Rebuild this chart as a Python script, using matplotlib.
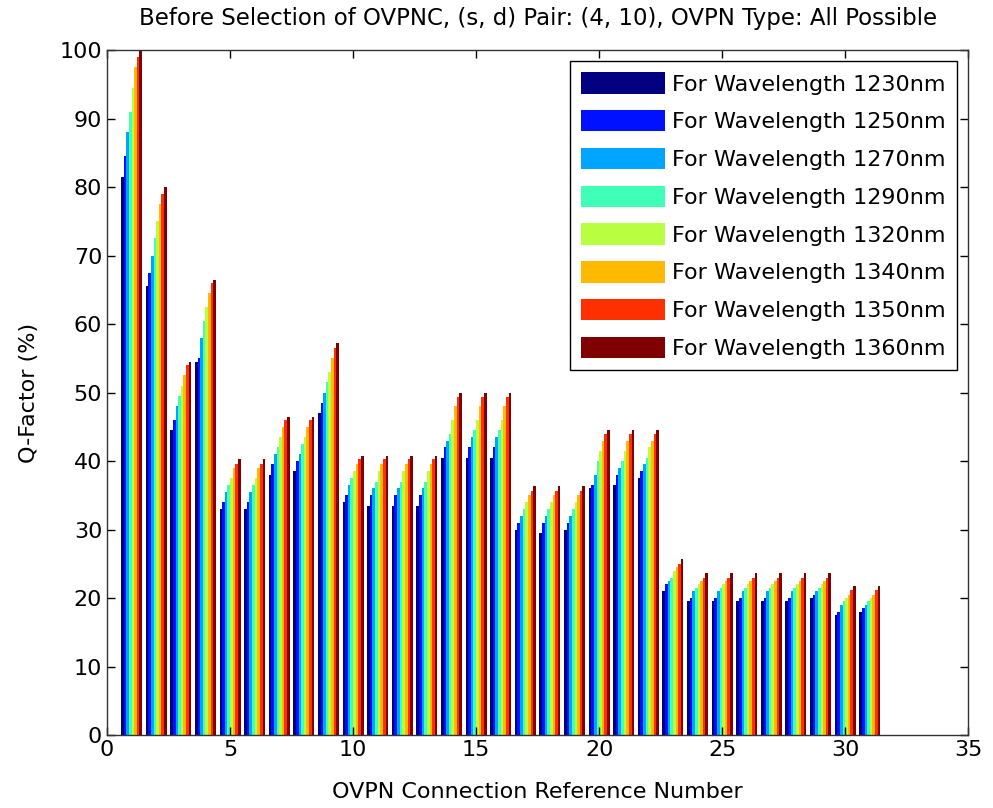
import numpy as np
import matplotlib
matplotlib.use("Agg")
import matplotlib.pyplot as plt

plt.rcParams['font.family'] = ['DejaVu Sans']

groups = np.arange(1, 32)
wavelengths = ["1230", "1250", "1270", "1290", "1320", "1340", "1350", "1360"]

# Q-factor per wavelength (one list per series, 31 OVPN connections)
q_1230 = [81.5, 65.5, 44.5, 54.5, 33, 33, 38, 38.5, 47, 34, 33.5, 33.5, 33.5, 40.5, 40.5, 40.5,
          30, 29.5, 30, 36, 36.5, 37.5, 21, 19.5, 19.5, 19.5, 19.5, 19.5, 20, 17.5, 18]
q_1250 = [84.5, 67.5, 46, 55, 34, 34, 39.5, 40, 48.5, 35, 35, 35, 35, 42, 42, 42,
          31, 31, 31, 36.5, 38, 38.5, 22, 20, 20, 20, 20, 20, 20.5, 18, 18.5]
q_1270 = [88, 70, 48, 58, 35.5, 35.5, 41, 41, 50, 36.5, 36, 36, 36, 43, 43.5, 43.5,
          32, 32, 32, 38, 39, 39.5, 22.5, 21, 21, 21, 21, 21, 21, 19, 19]
q_1290 = [91, 72.5, 49.5, 60.5, 36.5, 36.5, 42, 42.5, 51.5, 37.5, 37, 37, 37, 44, 44.5, 44.5,
          33, 33, 33, 40, 40, 40.5, 23, 21.5, 21.5, 21.5, 21.5, 21.5, 21.5, 19.5, 19.5]
q_1320 = [94.5, 75, 51, 62.5, 37.5, 37.5, 43.5, 43.5, 53, 38.5, 38.5, 38.5, 38.5, 46, 46, 46,
          34, 34, 34, 41.5, 41.5, 42, 24, 22, 22, 22, 22, 22, 22, 20, 20]
q_1340 = [97.5, 77.5, 52.5, 64.5, 39, 39, 45, 45, 55, 39.5, 39.5, 39.5, 39.5, 48, 48, 48,
          35, 35, 35, 43, 43, 43, 24.5, 22.5, 22.5, 22.5, 22.5, 22.5, 22.5, 20.5, 20.5]
q_1350 = [99, 79, 54, 66, 39.5, 39.5, 46, 46, 56.5, 40.3, 40.3, 40.3, 40.3, 49.3, 49.3, 49.3,
          35.7, 35.7, 35.7, 44, 44, 44, 25, 23, 23, 23, 23, 23, 23, 21.2, 21.2]
q_1360 = [100, 80, 54.5, 66.5, 40.3, 40.3, 46.5, 46.5, 57.2, 40.7, 40.7, 40.7, 40.7, 50, 50, 50,
          36.3, 36.3, 36.3, 44.6, 44.6, 44.6, 25.7, 23.6, 23.6, 23.6, 23.6, 23.6, 23.6, 21.8, 21.8]

series = [q_1230, q_1250, q_1270, q_1290, q_1320, q_1340, q_1350, q_1360]

fig = plt.figure(figsize=(9.93, 8.08), dpi=100)
ax = fig.add_axes([0.1078, 0.0903, 0.975 - 0.1078, 0.938 - 0.0903])

n = len(series)
group_w = 0.85
bw = group_w / n
cmap = plt.get_cmap('jet')
colors = [cmap(i / (n - 1)) for i in range(n)]
for i, (vals, wl) in enumerate(zip(series, wavelengths)):
    offs = -group_w / 2 + bw * (i + 0.5)
    ax.bar(groups + offs, vals, width=bw, color=colors[i], edgecolor='none',
           label=f"For Wavelength {wl}nm")

ax.set_xlim(0, 35)
ax.set_ylim(0, 100)
ax.set_xticks(np.arange(0, 36, 5))
ax.set_yticks(np.arange(0, 101, 10))
ax.tick_params(direction='in', top=True, right=True, labelsize=16, length=6, width=1)
for s in ax.spines.values():
    s.set_linewidth(1)
    s.set_color('#333333')

ax.set_title("Before Selection of OVPNC, (s, d) Pair: (4, 10), OVPN Type: All Possible",
             fontsize=16.5, pad=18)
ax.set_xlabel("OVPN Connection Reference Number", fontsize=16, labelpad=16)
ax.set_ylabel("Q-Factor (%)", fontsize=16, labelpad=15)

leg = ax.legend(loc='upper right', fontsize=16, handlelength=3.75, handleheight=1.1,
                labelspacing=0.7, borderpad=0.5, handletextpad=0.35, fancybox=False,
                framealpha=1, edgecolor='black', borderaxespad=0.5)
leg.get_frame().set_linewidth(1)

fig.savefig("out.png", dpi=100)
